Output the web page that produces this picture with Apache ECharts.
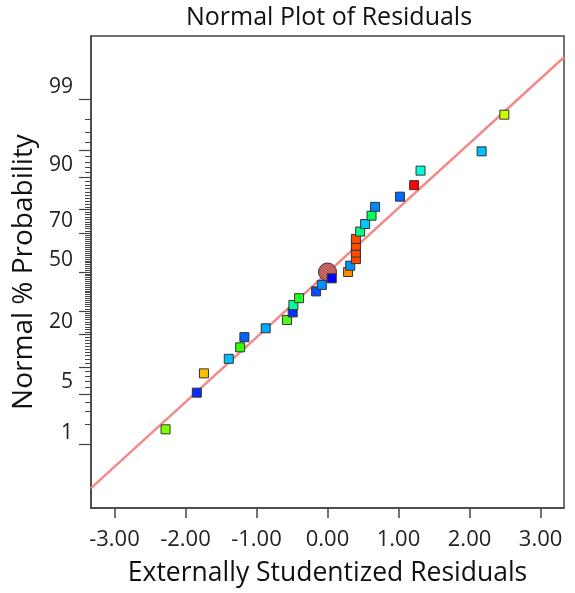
<!DOCTYPE html>
<html>
<head>
<meta charset="utf-8">
<script src="https://cdn.jsdelivr.net/npm/echarts@6/dist/echarts.min.js"></script>
<style>
html,body{margin:0;padding:0;background:#fff}
#chart{width:575px;height:593px}
</style>
</head>
<body>
<div id="chart"></div>
<script>
// externally studentized residuals, sorted (x)
var residuals = [-2.28, -1.84, -1.74, -1.39, -1.23, -1.17, -0.87, -0.57, -0.49, -0.48,
	-0.40, -0.16, -0.08, 0.06, 0.29, 0.32, 0.40, 0.40, 0.40, 0.40,
	0.46, 0.53, 0.62, 0.67, 1.02, 1.22, 1.31, 2.17, 2.49];
// normal % probability of each residual (y)
var probs = [1.7, 5.2, 8.6, 12.1, 15.5, 19.0, 22.4, 25.9, 29.3, 32.8,
	36.2, 39.7, 43.1, 46.6, 50.0, 53.4, 56.9, 60.3, 63.8, 67.2,
	70.7, 74.1, 77.6, 81.0, 84.5, 87.9, 91.4, 94.8, 98.3];
// point colours (run colour scale)
var pointColors = ['#7fff00', '#0a2cff', '#ffbf00', '#00bfff', '#33ff00', '#0064ff', '#00a6ff', '#4dff1a', '#0033ff', '#00ff9c',
	'#22ff22', '#0050ff', '#0090ff', '#0000ff', '#ff8c00', '#0092ff', '#ff4a00', '#ff4a00', '#ff4a00', '#ff4a00',
	'#00ff88', '#00c8ff', '#00ff55', '#0088ff', '#006aff', '#ff0000', '#00ffd8', '#00c0ff', '#c8ff00'];
var centerPoint = [0, 50];
// reference line: [residual, % probability]
var fitLine = [[-3.33, 0.18], [3.33, 99.81]];

var xTicks = [-3, -2, -1, 0, 1, 2, 3];
var yLabels = [1, 5, 20, 50, 70, 90, 99];
var yMajor = [1, 5, 10, 20, 30, 50, 70, 80, 90, 95, 99];
var yMinor = [];
for (var k = 1; k <= 99; k++) yMinor.push(k);

var FONT = "'Open Sans', 'Noto Sans', sans-serif";

// inverse of the standard normal cdf (probability scale)
function probit(p) {
	var a = [-3.969683028665376e+01, 2.209460984245205e+02, -2.759285104469687e+02, 1.383577518672690e+02, -3.066479806614716e+01, 2.506628277459239e+00];
	var b = [-5.447609879822406e+01, 1.615858368580409e+02, -1.556989798598866e+02, 6.680131188771972e+01, -1.328068155288572e+01];
	var c = [-7.784894002430293e-03, -3.223964580411365e-01, -2.400758277161838e+00, -2.549732539343734e+00, 4.374664141464968e+00, 2.938163982698783e+00];
	var d = [7.784695709041462e-03, 3.224671290700398e-01, 2.445134137142996e+00, 3.754408661907416e+00];
	var pl = 0.02425, q, r;
	if (p < pl) {
		q = Math.sqrt(-2 * Math.log(p));
		return (((((c[0]*q+c[1])*q+c[2])*q+c[3])*q+c[4])*q+c[5]) / ((((d[0]*q+d[1])*q+d[2])*q+d[3])*q+1);
	}
	if (p > 1 - pl) {
		q = Math.sqrt(-2 * Math.log(1 - p));
		return -(((((c[0]*q+c[1])*q+c[2])*q+c[3])*q+c[4])*q+c[5]) / ((((d[0]*q+d[1])*q+d[2])*q+d[3])*q+1);
	}
	q = p - 0.5; r = q * q;
	return (((((a[0]*r+a[1])*r+a[2])*r+a[3])*r+a[4])*r+a[5])*q / (((((b[0]*r+b[1])*r+b[2])*r+b[3])*r+b[4])*r+1);
}
function pz(pct) { return probit(pct / 100); }

var yLabelZ = yLabels.map(pz);
var yMajorZ = yMajor.map(pz);
var yMinorZ = yMinor.map(pz);
var zMin = -3.18, zMax = 3.18;

var pts = [];
for (var i = 0; i < residuals.length; i++) {
	pts.push({
		value: [residuals[i], pz(probs[i])],
		itemStyle: { color: pointColors[i] }
	});
}

var chart = echarts.init(document.getElementById('chart'));
chart.setOption({
	backgroundColor: '#fff',
	animation: false,
	textStyle: { fontFamily: FONT },
	title: {
		text: 'Normal Plot of Residuals',
		left: 181,
		top: 0,
		textStyle: { fontFamily: FONT, fontSize: 25, fontWeight: 'normal', color: '#111' }
	},
	grid: {
		left: 91, right: 11, top: 36, bottom: 85,
		show: true, borderColor: '#444', borderWidth: 1.5
	},
	xAxis: {
		type: 'value',
		min: -3.33, max: 3.33,
		splitLine: { show: false },
		axisLine: { show: true, onZero: false, lineStyle: { color: '#444', width: 1.5 } },
		axisTick: { show: true, customValues: xTicks, length: 10, lineStyle: { color: '#444', width: 1.5 } },
		axisLabel: {
			customValues: xTicks, margin: 21, fontSize: 22, color: '#222', fontFamily: FONT,
			formatter: function (v) { return v.toFixed(2); }
		},
		name: 'Externally Studentized Residuals',
		nameLocation: 'middle',
		nameGap: 52,
		nameTextStyle: { fontSize: 26.5, color: '#111', fontFamily: FONT }
	},
	yAxis: [{
		type: 'value',
		min: zMin, max: zMax,
		position: 'left',
		splitLine: { show: false },
		axisLine: { show: true, onZero: false, lineStyle: { color: '#444', width: 1.5 } },
		axisTick: { show: true, customValues: yMajorZ, length: 12, lineStyle: { color: '#444', width: 1.2 } },
		axisLabel: {
			customValues: yLabelZ, margin: 18, fontSize: 21, color: '#222', fontFamily: FONT,
			verticalAlign: 'bottom', lineHeight: 24,
			formatter: function (v) {
				for (var j = 0; j < yLabelZ.length; j++) {
					if (Math.abs(yLabelZ[j] - v) < 1e-6) return String(yLabels[j]);
				}
				return '';
			}
		},
		name: 'Normal % Probability',
		nameLocation: 'middle',
		nameGap: 46,
		nameTextStyle: { fontSize: 28, color: '#111', fontFamily: FONT }
	}, {
		type: 'value',
		min: zMin, max: zMax,
		position: 'left',
		splitLine: { show: false },
		axisLine: { show: false, onZero: false },
		axisTick: { show: true, customValues: yMinorZ, length: 6, lineStyle: { color: '#444', width: 1 } },
		axisLabel: { show: false }
	}],
	series: [{
		type: 'line',
		silent: true,
		symbol: 'none',
		data: fitLine.map(function (p) { return [p[0], pz(p[1])]; }),
		lineStyle: { color: '#f28a8a', width: 2.5 },
		z: 1
	}, {
		type: 'scatter',
		symbol: 'circle',
		symbolSize: 18,
		data: [[centerPoint[0], pz(centerPoint[1])]],
		itemStyle: { color: '#c1625f', borderColor: '#333', borderWidth: 1, opacity: 1 },
		z: 2
	}, {
		type: 'scatter',
		symbol: 'rect',
		symbolSize: 9,
		data: pts,
		itemStyle: { borderColor: '#333', borderWidth: 1, opacity: 1 },
		z: 3
	}]
});
</script>
</body>
</html>
